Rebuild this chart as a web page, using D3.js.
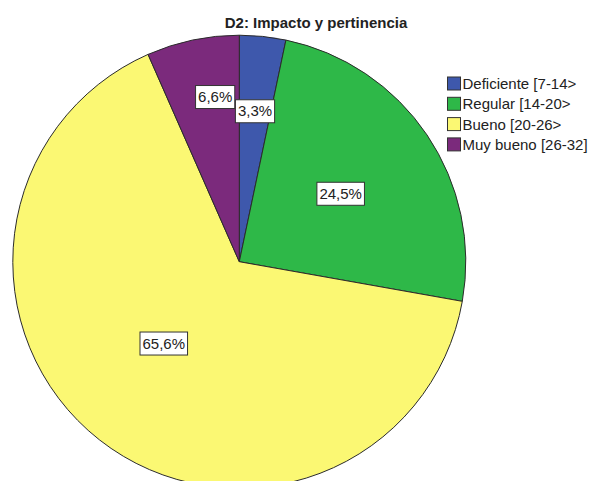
<!DOCTYPE html>
<html>
<head>
<meta charset="utf-8">
<script src="https://cdn.jsdelivr.net/npm/d3@7"></script>
<style>
html,body{margin:0;padding:0;background:#fff;}
svg{display:block;font-family:"Liberation Sans",Arial,sans-serif;}
</style>
</head>
<body>
<svg id="chart" width="592" height="481"></svg>
<script>
const categories = ["Deficiente [7-14>", "Regular [14-20>", "Bueno [20-26>", "Muy bueno [26-32]"];
const percentages = [3.3, 24.5, 65.6, 6.6];
const labels = ["3,3%", "24,5%", "65,6%", "6,6%"];
const colors = ["#3e58ac", "#2eb848", "#fbf873", "#7b2a7c"];
const title = "D2: Impacto y pertinencia";

// layout constants
const labelRadiusFactor = [0.67, 0.54, 0.49, 0.737];
const labelAngleFraction = [0.5, 0.5, 0.52, 0.65];

const svg = d3.select("#chart");
const cx = 239.3, cy = 261.7, r = 226.5;

svg.append("text")
  .attr("x", 316).attr("y", 27.5)
  .attr("text-anchor", "middle")
  .attr("font-size", 15).attr("font-weight", "bold")
  .attr("fill", "#222")
  .text(title);

const pie = d3.pie().sort(null).value(d => d)(percentages);
const arc = d3.arc().innerRadius(0).outerRadius(r);

const g = svg.append("g").attr("transform", `translate(${cx},${cy})`);
g.selectAll("path.slice").data(pie).join("path")
  .attr("class", "slice")
  .attr("d", arc)
  .attr("fill", (d, i) => colors[i])
  .attr("stroke", "#2b2b2b")
  .attr("stroke-width", 1);

pie.forEach((d, i) => {
  const a = d.startAngle + (d.endAngle - d.startAngle) * labelAngleFraction[i];
  const rr = r * labelRadiusFactor[i];
  const x = Math.sin(a) * rr, y = -Math.cos(a) * rr;
  const lg = g.append("g").attr("transform", `translate(${x},${y})`);
  const t = lg.append("text")
    .attr("text-anchor", "middle")
    .attr("dominant-baseline", "central")
    .attr("font-size", 15)
    .attr("fill", "#222")
    .text(labels[i]);
  const bb = t.node().getBBox();
  lg.insert("rect", "text")
    .attr("x", bb.x - 2.5).attr("y", -11)
    .attr("width", bb.width + 5).attr("height", 23)
    .attr("fill", "#fff")
    .attr("stroke", "#333").attr("stroke-width", 1);
});

const legend = svg.append("g").attr("transform", "translate(447.5,77)");
const rowH = 20.3;
categories.forEach((c, i) => {
  const row = legend.append("g").attr("transform", `translate(0,${i * rowH})`);
  row.append("rect")
    .attr("x", 0).attr("y", 0).attr("width", 13).attr("height", 13)
    .attr("fill", colors[i]).attr("stroke", "#333").attr("stroke-width", 1);
  row.append("text")
    .attr("x", 15).attr("y", 6.5)
    .attr("dominant-baseline", "central")
    .attr("font-size", 15).attr("fill", "#222")
    .text(c);
});
</script>
</body>
</html>
